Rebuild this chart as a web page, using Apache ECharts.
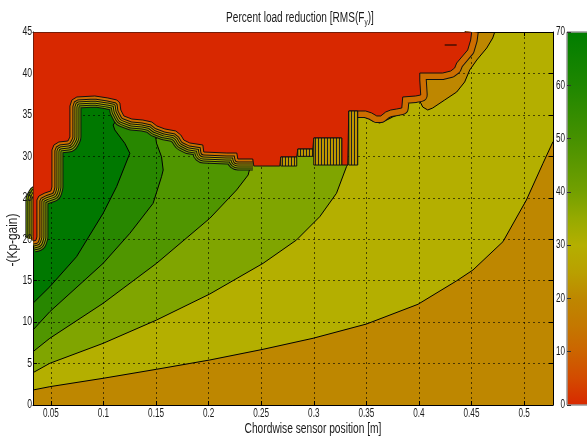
<!DOCTYPE html>
<html><head><meta charset="utf-8">
<script src="https://cdn.jsdelivr.net/npm/echarts@6/dist/echarts.min.js"></script>
<style>html,body{margin:0;padding:0;background:#fff}#c{width:587px;height:439px}</style>
</head><body><div id="c"></div>
<script>
// ---- axes ----
const xMin = 0.033, xMax = 0.5275, yMin = 0, yMax = 45;
const xTicks = [0.05, 0.1, 0.15, 0.2, 0.25, 0.3, 0.35, 0.4, 0.45, 0.5];
const yTicks = [0, 5, 10, 15, 20, 25, 30, 35, 40, 45];
const cbMin = 0, cbMax = 70;
const cbTicks = [0, 10, 20, 30, 40, 50, 60, 70];
const titleText = 'Percent load reduction [RMS(F{s|y})]';
const xName = 'Chordwise sensor position [m]';
const yName = '-(Kp-gain)';

// ---- contour lines (boundaries between filled levels) ----
const L1 = [[0.033,1.81],[0.049,2.21],[0.0997,3.22],[0.1505,4.31],[0.2011,5.43],[0.2518,6.72],[0.2993,8.05],[0.3501,9.77],[0.3991,12.15],[0.4356,14.96],[0.4514,16.29],[0.4799,19.70],[0.5022,24.73],[0.518,29.16],[0.5275,31.77]];
const L2 = [[0.033,3.90],[0.049,5.03],[0.0997,7.44],[0.1505,10.25],[0.2011,13.39],[0.2518,17.09],[0.2836,19.91],[0.3057,22.72],[0.3216,25.54],[0.3311,28.75],[0.3326,29.07]];
const L3 = [[0.033,6.43],[0.049,8.05],[0.0997,12.27],[0.1505,17.09],[0.2011,22.52],[0.2266,25.94],[0.2376,27.75],[0.2392,28.55],[0.2385,29.3]];
const L4 = [[0.033,9.05],[0.049,11.26],[0.0997,17.09],[0.1251,20.71],[0.1472,24.33],[0.1552,27.54],[0.1568,28.35],[0.1552,29.95],[0.1505,31.57],[0.1489,32.97]];
const L5 = [[0.033,12.27],[0.049,14.27],[0.0744,17.89],[0.0997,23.13],[0.1125,26.34],[0.1251,30.37],[0.1203,31.57],[0.1108,33.18],[0.1092,33.78],[0.1156,34.99]];

// boundary of the lowest (red) region
const redEdge = [[0.033,19.78],[0.0357,19.85],[0.0367,20.27],[0.0367,24.73],[0.0386,25.21],[0.0443,25.58],[0.0500,25.82],[0.0510,26.30],[0.0510,30.76],[0.0529,31.37],[0.0576,31.73],[0.0662,31.85],[0.0681,32.33],[0.0681,36.07],[0.0700,36.80],[0.0747,37.16],[0.0918,37.28],[0.1042,37.04],[0.1127,36.80],[0.1156,36.43],[0.1165,35.59],[0.1194,34.87],[0.1270,34.50],[0.1375,34.38],[0.1460,34.14],[0.1508,33.66],[0.1584,33.30],[0.1688,33.06],[0.1736,32.57],[0.1764,31.97],[0.1821,31.61],[0.1945,31.37],[0.1954,30.52],[0.2173,30.40],[0.2268,30.40],[0.2278,29.68],[0.2420,29.68],[0.2430,28.83],[0.2677,28.83],[0.2686,29.92],[0.2838,29.92],[0.2848,30.88],[0.2991,30.88],[0.3000,32.21],[0.3266,32.21],[0.3266,28.95],[0.3323,28.95],[0.3333,35.47],[0.3494,35.47],[0.3551,35.23],[0.3599,34.87],[0.3637,34.87],[0.3684,35.35],[0.3732,35.59],[0.3789,35.71],[0.3837,35.83],[0.3846,37.16],[0.3970,37.28],[0.4017,37.40],[0.4008,39.21],[0.4008,40.05],[0.4226,40.05],[0.4302,40.29],[0.4340,40.66],[0.4359,41.26],[0.4407,41.98],[0.4464,42.83],[0.4492,44.03],[0.4502,45]];

// outer edge of the 20-level band on the upper right
const brownEdge = [[0.4721,45],[0.4702,44.28],[0.4645,43.07],[0.4550,41.62],[0.4483,40.41],[0.4435,38.97],[0.4359,37.76],[0.4245,36.80],[0.4131,35.83],[0.4084,35.59],[0.4036,35.95],[0.4008,36.68],[0.3932,36.68],[0.3884,36.31],[0.3865,35.59],[0.3818,35.11],[0.3751,34.75],[0.3694,34.38],[0.3627,34.02],[0.3561,34.26],[0.3494,34.75],[0.3437,35.11]];

// vertical-contour step blocks
const block1 = [[0.2686,29.92],[0.2838,29.92],[0.2838,28.83],[0.2686,28.83]];
const block2 = [[0.2848,30.88],[0.2991,30.88],[0.2991,30.0],[0.2848,30.0]];
const block3 = [[0.3000,32.21],[0.3266,32.21],[0.3266,28.95],[0.3000,28.95]];
const block4 = [[0.3333,35.47],[0.3418,35.47],[0.3418,28.95],[0.3333,28.95]];
const island = [[0.4245,43.43],[0.4359,43.43]];

const FF = '"Liberation Sans", Arial, sans-serif';
const C = {
  red:'#d82800', brown:'#be8700', olive:'#b4af00', yg:'#80a500', g1:'#509600', g2:'#288700', g3:'#007800', orange:'#cd6e00'
};

// stripe pattern
const pc = document.createElement('canvas'); pc.width = 3; pc.height = 2;
const pctx = pc.getContext('2d');
pctx.fillStyle = '#c88c00'; pctx.fillRect(0,0,3,2);
pctx.fillStyle = '#b4a000'; pctx.fillRect(1,0,1,2);
pctx.fillStyle = '#222'; pctx.fillRect(0,0,1,2);

const seriesList = [];
let zc = 2;
function poly(pts, fill, stroke, sw) {
  seriesList.push({type:'custom', xAxisIndex:0, yAxisIndex:0, silent:true, clip:true, z: zc++,
    data:[[pts[0][0], pts[0][1]]],
    renderItem:(p, api) => ({type:'polygon', shape:{points: pts.map(q => api.coord(q))},
      style:{fill: fill, stroke: stroke || null, lineWidth: sw || 0}})});
}
function line(pts, color, width) {
  seriesList.push({type:'line', xAxisIndex:0, yAxisIndex:0, silent:true, clip:true, z: zc++, data: pts,
    symbol:'none', smooth:false, lineStyle:{color: color, width: width, cap:'butt', join:'round'}});
}
const closeTop = (pts) => { const l = pts[pts.length-1]; return pts.concat([[l[0], yMax], [xMin, yMax]]); };

// filled levels
poly([[xMin,yMin],[xMax,yMin],[xMax,yMax],[xMin,yMax]], C.brown);
poly(L1.concat([[xMax,yMax],[xMin,yMax]]), C.olive);
poly(closeTop(L2), C.yg);
poly(closeTop(L3), C.g1);
poly(closeTop(L4), C.g2);
poly(closeTop(L5), C.g3);
poly(brownEdge.concat([[0.3390,36.8],[0.3390,yMax]]), C.brown);
// contour lines
[L1, L2, L3, L4, L5, brownEdge].forEach(l => line(l, '#000', 1));
// tightly packed bands along the red edge
const segA = redEdge.slice(0, 37);
const segC = redEdge.slice(47);
const bandsA = [[11,'#78a000'],[9,'#9ea800'],[7,'#b9aa00'],[5,'#c39000'],[3,'#cc6e00']];
bandsA.forEach(([r, col]) => { line(segA, '#111', 2*r+1); line(segA, col, 2*r-1); });
line(segC, '#111', 14); line(segC, C.orange, 12);
// red region
poly(redEdge.concat([[xMin,yMax]]), C.red, '#111', 1);
[block1, block2, block3, block4].forEach(b => poly(b, {image: pc, repeat:'repeat'}, '#111', 1));
line(island, '#000', 1);

// colour bar
seriesList.push({type:'custom', xAxisIndex:2, yAxisIndex:2, silent:true, z:2, data:[[0,0]],
  renderItem:(p, api) => { const a = api.coord([0, cbMax]), b = api.coord([1, cbMin]);
    return {type:'rect', shape:{x:a[0], y:a[1], width:b[0]-a[0], height:b[1]-a[1]},
      style:{fill:{type:'linear', x:0, y:0, x2:0, y2:1, colorStops:[
        {offset:0,color:'#007d00'},{offset:0.1429,color:'#1e8700'},{offset:0.2857,color:'#469100'},
        {offset:0.4286,color:'#73a000'},{offset:0.5,color:'#96aa00'},{offset:0.5714,color:'#b4af00'},
        {offset:0.6429,color:'#b9a000'},{offset:0.7143,color:'#be8700'},{offset:0.7857,color:'#c47800'},
        {offset:0.8571,color:'#cc6400'},{offset:0.9286,color:'#d34a00'},{offset:1,color:'#d82800'}]},
        stroke:'#999', lineWidth:1}}; }});

const axLine = {show: true, onZero: false, lineStyle: {color: '#000', width: 1}};
const tick = {show: true, inside: true, length: 4, lineStyle: {color: '#000'}};
const grid = {show: true, lineStyle: {color: '#000', type: [2, 3], width: 1, opacity: 0.6}};
const option = {
  animation: false,
  grid: [{left: 33, top: 32, right: 34, bottom: 34, outerBoundsMode: 'none', containLabel: false},
         {left: 567, top: 32, width: 40, bottom: 34, outerBoundsMode: 'none', containLabel: false}],
  xAxis: [
    {gridIndex: 0, type: 'value', min: xMin, max: xMax, z: 10, position: 'bottom', axisLine: axLine,
      axisTick: Object.assign({customValues: xTicks}, tick), axisLabel: {show: false}, splitLine: grid},
    {gridIndex: 0, type: 'value', min: xMin, max: xMax, z: 10, position: 'top', axisLine: axLine,
      axisTick: Object.assign({customValues: xTicks}, tick), axisLabel: {show: false}, splitLine: {show: false}},
    {gridIndex: 1, type: 'value', min: 0, max: 1, show: false}
  ],
  yAxis: [
    {gridIndex: 0, type: 'value', min: yMin, max: yMax, interval: 5, z: 10, position: 'left', axisLine: axLine,
      axisTick: tick, axisLabel: {show: false}, splitLine: grid},
    {gridIndex: 0, type: 'value', min: yMin, max: yMax, interval: 5, z: 10, position: 'right', axisLine: axLine,
      axisTick: tick, axisLabel: {show: false}, splitLine: {show: false}},
    {gridIndex: 1, type: 'value', min: cbMin, max: cbMax, interval: 10, z: 10, position: 'left',
      axisLine: {show: false}, axisTick: {show: true, inside: true, length: 4, lineStyle: {color: '#333'}},
      axisLabel: {show: false}, splitLine: {show: false}}
  ],
  series: seriesList
};
const chart = echarts.init(document.getElementById('c'), null, {renderer: 'canvas'});
chart.setOption(option);

// narrow text labels positioned through the axis scales
function txt(x, y, text, align, sx, fs, rot) {
  return {type: 'text', x: x, y: y, scaleX: sx, rotation: rot || 0, z: 100, silent: true,
    style: {text: String(text), fill: '#1a1a1a', font: fs + 'px ' + FF, align: align, textAlign: align,
      verticalAlign: 'middle', textVerticalAlign: 'middle',
      rich: {s: {fontSize: 9, fontFamily: FF, fill: '#1a1a1a', padding: [9, 0, 0, 0]}}}};
}
const gx = [];
const fmt = v => String(+v.toFixed(2));
xTicks.forEach(v => gx.push(txt(chart.convertToPixel({xAxisIndex: 0}, v), 414, fmt(v), 'center', 0.68, 12)));
yTicks.forEach(v => gx.push(txt(32, chart.convertToPixel({yAxisIndex: 0}, v), v, 'right', 0.72, 12)));
cbTicks.forEach(v => gx.push(txt(565, chart.convertToPixel({yAxisIndex: 2}, v), v, 'right', 0.68, 12)));
gx.push(txt(300, 18, titleText, 'center', 0.72, 14));
gx.push(txt(313, 429, xName, 'center', 0.73, 14));
gx.push(txt(13, 240, yName, 'center', 0.85, 14, Math.PI / 2));
chart.setOption({graphic: {elements: gx}});
</script>
</body></html>
